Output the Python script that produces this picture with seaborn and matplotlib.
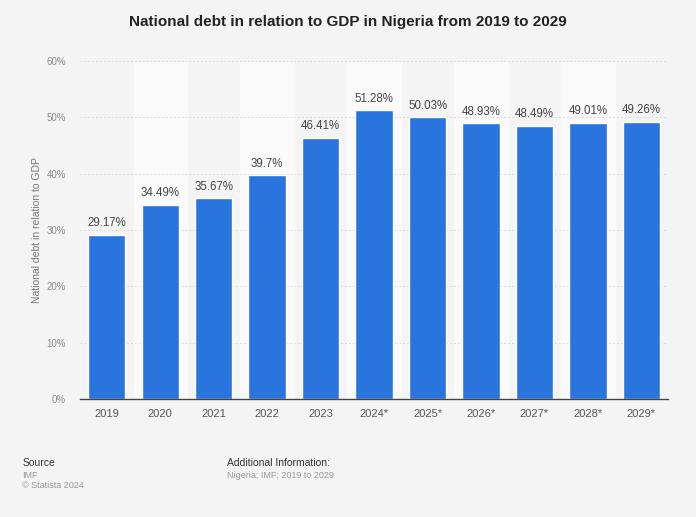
import numpy as np
import pandas as pd
import seaborn as sns
import matplotlib.pyplot as plt
from matplotlib.ticker import FuncFormatter

years = ['2019', '2020', '2021', '2022', '2023', '2024*', '2025*', '2026*', '2027*', '2028*', '2029*']
debt_pct = [29.17, 34.49, 35.67, 39.7, 46.41, 51.28, 50.03, 48.93, 48.49, 49.01, 49.26]
value_labels = ['29.17%', '34.49%', '35.67%', '39.7%', '46.41%', '51.28%', '50.03%', '48.93%', '48.49%', '49.01%', '49.26%']

df = pd.DataFrame({'year': years, 'debt': debt_pct})

bg = '#f4f4f4'
sns.set_theme(style='white')
plt.rcParams['font.family'] = ['Liberation Sans', 'DejaVu Sans']

fig = plt.figure(figsize=(6.96, 5.17), dpi=100, facecolor=bg)
ax = fig.add_axes([0.115, 0.228, 0.845, 0.654])
ax.set_facecolor(bg)

# alternating column bands
for i in range(len(years)):
    if i % 2 == 1:
        ax.axvspan(i - 0.5, i + 0.5, color='#fafafa', zorder=0)

sns.barplot(data=df, x='year', y='debt', color='#2a74de', width=0.7,
            saturation=1, ax=ax, zorder=3)

ax.set_ylim(0, 60)
ax.set_xlim(-0.5, len(years) - 0.5)
ax.set_yticks(range(0, 61, 10))
ax.yaxis.set_major_formatter(FuncFormatter(lambda v, p: f'{int(v)}%'))
ax.grid(axis='y', color='#dcdcdc', linestyle=(0, (2, 2)), linewidth=0.7, zorder=1)
ax.set_axisbelow(True)

for s in ['top', 'right', 'left']:
    ax.spines[s].set_visible(False)
ax.spines['bottom'].set_color('#444444')
ax.spines['bottom'].set_linewidth(1.0)
ax.spines['bottom'].set_zorder(4)

ax.tick_params(axis='y', labelsize=7, colors='#888888', length=0, pad=10)
ax.tick_params(axis='x', labelsize=8, colors='#555555', length=0, pad=7)
ax.set_xlabel('')
ax.set_ylabel('National debt in relation to GDP', fontsize=7.5, color='#777777')
ax.yaxis.set_label_coords(-0.064, 0.5)

for i, lab in enumerate(value_labels):
    ax.annotate(lab, (i, debt_pct[i]), xytext=(0, 4), textcoords='offset points',
                ha='center', va='bottom', fontsize=8.3, color='#444444')

fig.text(0.5, 0.957, 'National debt in relation to GDP in Nigeria from 2019 to 2029',
         ha='center', va='center', fontsize=11, fontweight='bold', color='#222222')

fig.text(0.032, 0.104, 'Source', fontsize=7.5, color='#333333', va='center')
fig.text(0.032, 0.080, 'IMF', fontsize=6.5, color='#999999', va='center')
fig.text(0.032, 0.061, '© Statista 2024', fontsize=6.5, color='#999999', va='center')
fig.text(0.326, 0.104, 'Additional Information:', fontsize=7.5, color='#333333', va='center')
fig.text(0.326, 0.081, 'Nigeria; IMF; 2019 to 2029', fontsize=6.5, color='#999999', va='center')

fig.savefig('out.png', dpi=100, facecolor=bg)
